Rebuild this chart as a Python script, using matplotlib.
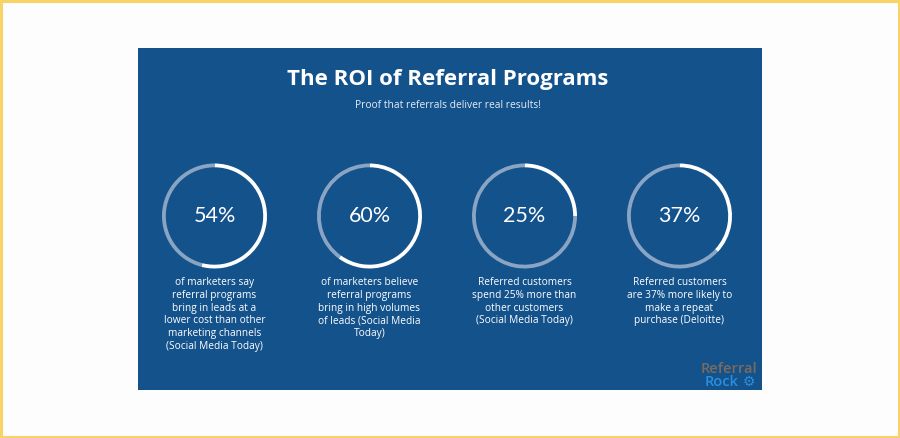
import matplotlib
matplotlib.use("Agg")
import matplotlib.pyplot as plt
import matplotlib.patches as mpatches

W, H = 900, 438

# ---------------------------------------------------------------------------
# Data
# ---------------------------------------------------------------------------
TITLE = "The ROI of Referral Programs"
SUBTITLE = "Proof that referrals deliver real results!"
percents = [54, 60, 25, 37]
captions = [
    "of marketers say\nreferral programs\nbring in leads at a\nlower cost than other\nmarketing channels\n(Social Media Today)",
    "of marketers believe\nreferral programs\nbring in high volumes\nof leads (Social Media\nToday)",
    "Referred customers\nspend 25% more than\nother customers\n(Social Media Today)",
    "Referred customers\nare 37% more likely to\nmake a repeat\npurchase (Deloitte)",
]

# Colours
PAGE_BG = "#FDFDFD"
BORDER = "#F8D468"
PANEL = "#14528C"
RING_BG = "#8AA5C3"
RING_FG = "#FFFFFF"
LOGO_TOP = "#7C6B5C"
LOGO_BOT = "#2A8FE0"

FONT = "Open Sans"


def Y(y):
    # pixel row (top-down) -> data y (bottom-up)
    return H - y


fig = plt.figure(figsize=(W / 100, H / 100), dpi=100, facecolor=PAGE_BG)
ax = fig.add_axes([0, 0, 1, 1])
ax.set_axis_off()

# page border
ax.add_patch(mpatches.Rectangle((1, 1), W - 2, H - 2, fill=False,
                                edgecolor=BORDER, linewidth=2.2, zorder=1))
# blue panel
ax.add_patch(mpatches.Rectangle((138, Y(390)), 624, 342,
                                facecolor=PANEL, edgecolor="none", zorder=1))

ax.text(448, Y(79), TITLE, color="white", fontsize=16, fontweight="bold",
        family=FONT, ha="center", va="center", zorder=3)
ax.text(448, Y(106), SUBTITLE, color="#E6EDF5", fontsize=7.4,
        family=FONT, ha="center", va="center", zorder=3)

cx0, dx, cy, r = 214.5, 155, 216, 52.5
for i, (p, cap) in enumerate(zip(percents, captions)):
    cx = cx0 + i * dx
    ax.pie([p, 100 - p], colors=[RING_FG, RING_BG], startangle=90,
           counterclock=False, center=(cx, Y(cy)), radius=r,
           wedgeprops=dict(width=3.8, edgecolor="none"), frame=True)
    ax.text(cx, Y(cy), f"{p}%", color="white", fontsize=15.5, family="Lato",
            fontweight="normal", ha="center", va="center", zorder=4)
    ax.text(cx, Y(277), cap, color="white", fontsize=7.3, family=FONT,
            ha="center", va="top", linespacing=1.22, zorder=4)

# logo
ax.text(729, Y(369), "Referral", color=LOGO_TOP, fontsize=10.5,
        family=FONT, fontweight="semibold", ha="center", va="center", zorder=4)
ax.text(722, Y(382), "Rock", color=LOGO_BOT, fontsize=10.5,
        family=FONT, fontweight="semibold", ha="center", va="center", zorder=4)
ax.text(749, Y(382), "\u2699", color=LOGO_BOT, fontsize=10,
        family="DejaVu Sans", fontweight="bold", ha="center", va="center", zorder=4)

ax.set_xlim(0, W)
ax.set_ylim(0, H)
ax.set_aspect("auto")
ax.set_axis_off()

fig.savefig("out.png", dpi=100, facecolor=PAGE_BG)
